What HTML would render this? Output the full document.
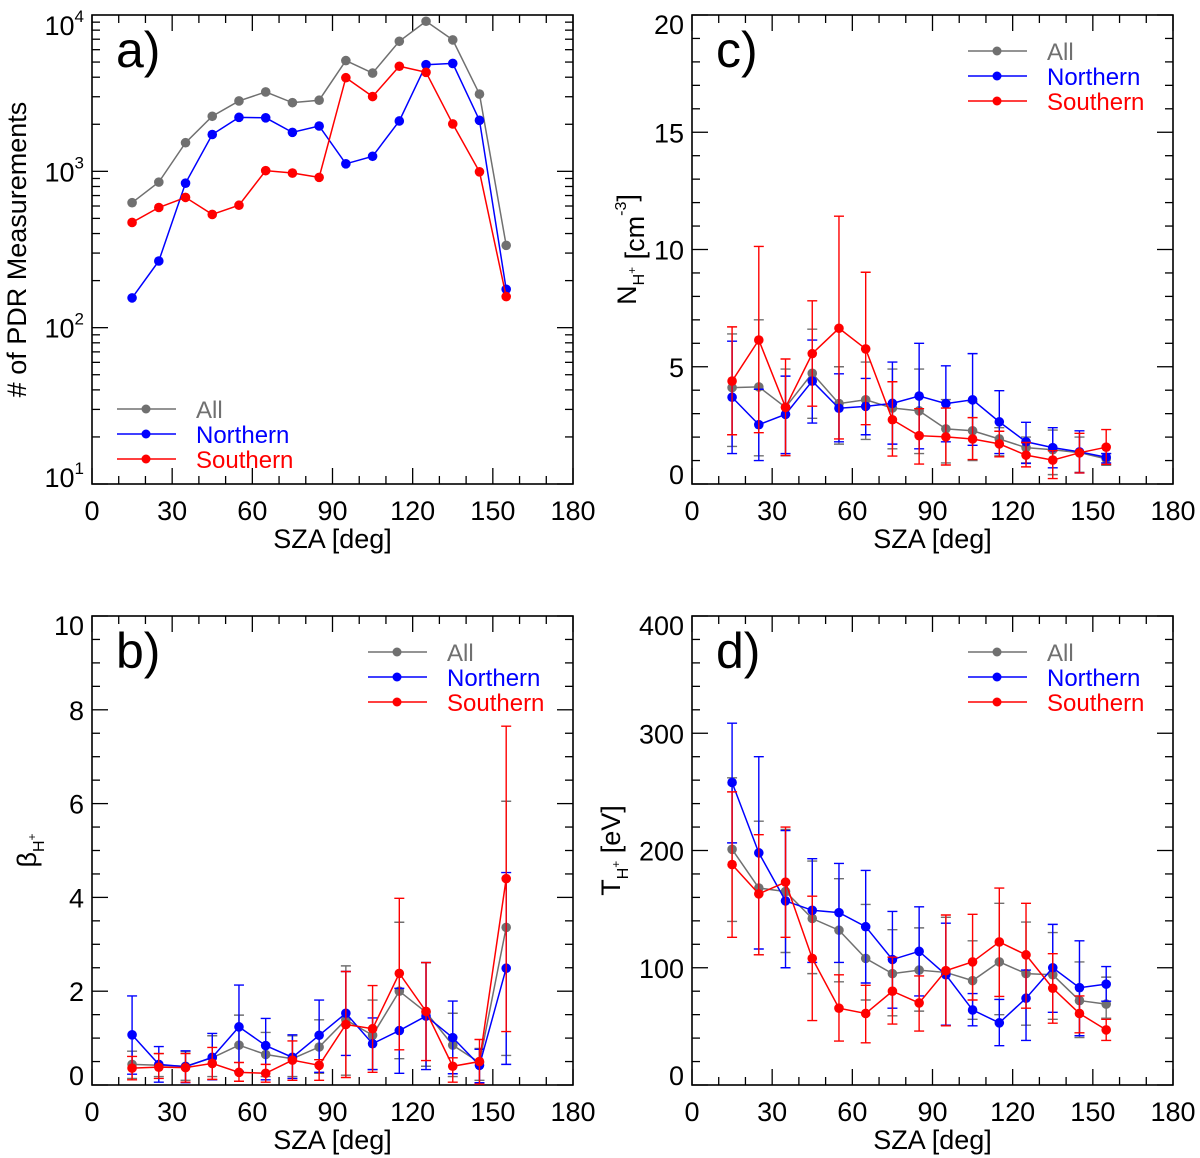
<!DOCTYPE html>
<html><head><meta charset="utf-8">
<style>
html,body{margin:0;padding:0;background:#fff;}
svg{display:block;font-family:"Liberation Sans",Arial,sans-serif;}
</style></head>
<body>
<svg id="fig" width="1200" height="1158" viewBox="0 0 1200 1158" xmlns="http://www.w3.org/2000/svg"></svg>
<script>
// ---------- data ----------
const sza = [15,25,35,45,55,65,75,85,95,105,115,125,135,145,155];
const xTicks = [0,30,60,90,120,150,180];

// panel a: counts
const countAll = [630,853,1524,2250,2820,3220,2750,2850,5110,4250,6790,9120,6930,3120,336];
const countNorth = [155,267,840,1720,2215,2200,1775,1950,1117,1248,2100,4810,4900,2120,176];
const countSouth = [471,587,681,530,607,1010,975,915,3970,3010,4700,4300,2010,993,158];

// panel c: density
const nAll = [4.11,4.14,3.27,4.72,3.43,3.59,3.24,3.12,2.35,2.27,1.92,1.55,1.46,1.34,1.07];
const nAllLo = [1.6,1.2,1.2,2.8,1.7,1.9,1.5,1.3,0.9,1.0,1.2,0.9,0.4,0.5,0.8];
const nAllHi = [6.4,7.0,4.9,6.6,5.0,5.2,4.9,4.9,3.6,3.5,2.4,2.0,2.3,2.0,1.3];
const nNorth = [3.70,2.53,2.97,4.39,3.23,3.31,3.44,3.75,3.43,3.59,2.65,1.80,1.55,1.37,1.14];
const nNorthLo = [1.3,1.0,1.3,2.6,1.8,2.1,1.7,1.5,1.8,1.65,1.3,0.88,0.69,0.47,0.9];
const nNorthHi = [6.09,4.04,4.6,6.14,4.7,4.5,5.2,6.0,5.04,5.56,3.98,2.63,2.4,2.27,1.3];
const nSouth = [4.39,6.14,3.27,5.56,6.64,5.76,2.74,2.06,2.01,1.92,1.71,1.23,1.02,1.33,1.57];
const nSouthLo = [2.1,2.19,1.22,3.32,1.92,2.53,1.19,0.85,0.81,1.04,1.16,0.73,0.23,0.47,0.84];
const nSouthHi = [6.7,10.13,5.33,7.81,11.42,9.03,4.36,3.21,3.24,2.83,2.25,1.77,1.42,2.16,2.32];

// panel b: beta
const bAll = [0.44,0.42,0.40,0.58,0.85,0.65,0.56,0.81,1.39,1.06,2.00,1.55,0.85,0.48,3.36];
const bAllLo = [0.14,0.18,0.1,0.18,0.29,0.18,0.18,0.25,0.21,0.33,0.56,0.40,0.18,0.1,0.63];
const bAllHi = [0.72,0.67,0.71,1.05,1.49,1.12,1.05,1.39,2.54,1.81,3.47,2.61,1.53,0.78,6.05];
const bNorth = [1.07,0.44,0.39,0.59,1.24,0.84,0.59,1.06,1.53,0.88,1.16,1.47,1.01,0.42,2.49];
const bNorthLo = [0.23,0.06,0.05,0.11,0.29,0.11,0.14,0.27,0.63,0.33,0.25,0.33,0.24,0.05,0.44];
const bNorthHi = [1.90,0.82,0.73,1.10,2.13,1.42,1.07,1.81,2.42,1.43,2.06,2.61,1.79,0.76,4.53];
const bSouth = [0.36,0.38,0.37,0.46,0.27,0.25,0.53,0.42,1.29,1.20,2.38,1.57,0.40,0.50,4.40];
const bSouthLo = [0.11,0.14,0.06,0.12,0.08,0.06,0.1,0.1,0.16,0.27,0.75,0.52,0.06,0.02,1.14];
const bSouthHi = [0.61,0.67,0.67,0.80,0.48,0.44,0.94,0.54,2.42,2.12,3.98,2.61,0.58,0.97,7.65];

// panel d: temperature
const tAll = [201,168,165,142,132,108,95,98,96,89,105,95,94,72,69];
const tAllLo = [139.5,111,113,95,88,72.5,59,63,51,56,60,51,56,40.5,57];
const tAllHi = [262,225,218,191,176,154,132.5,134,143,123,155,139,130,105,92];
const tNorth = [258,198,157,149,147,135,107,114,94,64,53,74,100,83,86];
const tNorthLo = [206.5,116,100,104.5,104.5,87,65.5,76,51,50.5,33.5,38,62,42,71.5];
const tNorthHi = [308.6,280,217,193,189,183,148,152,138,78,73,98,137,123,101];
const tSouth = [188,163,173,108,65.5,61,80,70,97.5,105,122,111,82.5,61,47];
const tSouthLo = [126,111,126,55,37.5,36,52,46,50.5,72.5,75.5,65.5,52.7,44.5,38];
const tSouthHi = [250,213.5,220,161,94,85,109,93,145,145.6,168,155,112,76,56];

const legendNames = ["All","Northern","Southern"];
const GRAY="#707070", BLUE="#0000ff", RED="#ff0000";

// ---------- drawing ----------
const NS="http://www.w3.org/2000/svg";
const svg=document.getElementById('fig');
const PW=481, PH=469;
function mk(tag, attrs, parent){
  const e=document.createElementNS(NS,tag);
  for(const k in attrs) e.setAttribute(k,attrs[k]);
  (parent||svg).appendChild(e);
  return e;
}

function panel(opt){
  const g=mk('g',{});
  
  
  const L=opt.x0, R=opt.x0+PW, T=opt.y0, B=opt.y0+PH;
  const xs=v=>L+(v/180)*(R-L);
  const ys=opt.log
    ? v=>B-(Math.log10(v)-1)/3*(B-T)
    : v=>B-(v-opt.ymin)/(opt.ymax-opt.ymin)*(B-T);

  // x ticks
  for(let v=0; v<=180; v+=10){
    const major=v%30===0, len=major?16:8, x=xs(v);
    const t1=mk('line',{x1:x,y1:B,x2:x,y2:B-len,stroke:'#000','stroke-width':1.3},g);
    
    
    mk('line',{x1:x,y1:T,x2:x,y2:T+len,stroke:'#000','stroke-width':1.3},g);
  }
  xTicks.forEach(v=>{
    const t=mk('text',{x:xs(v),y:B+36,'text-anchor':'middle','font-size':27},g);
    t.textContent=v;
    
    
  });
  const xt=mk('text',{x:(L+R)/2,y:B+64,'text-anchor':'middle','font-size':27},g);
  xt.textContent='SZA [deg]';
  
  

  // y ticks
  if(opt.log){
    for(let d=1; d<=3; d++){
      for(let m=1; m<=9; m++){
        const v=m*Math.pow(10,d), y=ys(v), len=m===1?16:8;
        mk('line',{x1:L,y1:y,x2:L+len,y2:y,stroke:'#000','stroke-width':1.3},g);
        mk('line',{x1:R,y1:y,x2:R-len,y2:y,stroke:'#000','stroke-width':1.3},g);
      }
    }
    [1,2,3,4].forEach(p=>{
      const y=ys(Math.pow(10,p));
      const off = p===4?10:(p===1?-7:0);
      const t=mk('text',{x:L-8,y:y+off+10,'text-anchor':'end','font-size':27},g);
      
      
      t.textContent='10';
      const s=mk('tspan',{dy:-13,'font-size':17},t); s.textContent=p;
    });
  } else {
    for(let v=opt.ymin; v<=opt.ymax+1e-9; v+=opt.minor){
      const major=Math.abs(v/opt.major-Math.round(v/opt.major))<1e-6, len=major?16:8, y=ys(v);
      mk('line',{x1:L,y1:y,x2:L+len,y2:y,stroke:'#000','stroke-width':1.3},g);
      mk('line',{x1:R,y1:y,x2:R-len,y2:y,stroke:'#000','stroke-width':1.3},g);
    }
    opt.yTicks.forEach((v,i)=>{
      const off = i===0?0:(i===opt.yTicks.length-1?19:10);
      const t=mk('text',{x:L-8,y:ys(v)+off,'text-anchor':'end','font-size':27},g);
      t.textContent=v;
      
      
    });
  }
  // frame
  const fr=mk('rect',{x:L,y:T,width:R-L,height:B-T,fill:'none',stroke:'#000','stroke-width':1.6},g);
  
  

  // y title
  const yt=mk('text',{transform:`translate(${L-opt.ytOff},${(T+B)/2}) rotate(-90)`,'text-anchor':'middle','font-size':27},g);
  
  
  opt.ytitle(yt);

  // panel letter
  const pl=mk('text',{x:L+24,y:T+52,'font-size':50},g);
  pl.textContent=opt.letter;
  
  

  // series
  opt.series.forEach(s=>{
    const sg=mk('g',{},g);
    
    
    if(s.lo){
      sza.forEach((x,i)=>{
        const X=xs(x), y1=ys(s.lo[i]), y2=ys(s.hi[i]);
        const eb=mk('path',{d:`M${X},${y1}V${y2}M${X-5},${y1}H${X+5}M${X-5},${y2}H${X+5}`,stroke:s.color,'stroke-width':1.4,fill:'none'},sg);
        
        
      });
    }
    const pts=sza.map((x,i)=>xs(x)+','+ys(s.v[i])).join(' ');
    const pl2=mk('polyline',{points:pts,fill:'none',stroke:s.color,'stroke-width':1.5},sg);
    
    
    sza.forEach((x,i)=>{
      const c=mk('circle',{cx:xs(x),cy:ys(s.v[i]),r:4.8,fill:s.color},sg);
      
      
    });
  });

  // legend
  const lg=mk('g',{},g);
  
  
  const colors=[GRAY,BLUE,RED];
  legendNames.forEach((n,i)=>{
    const y=opt.legY+i*25;
    const e=mk('g',{},lg);
    
    
    mk('line',{x1:opt.legX,y1:y,x2:opt.legX+59,y2:y,stroke:colors[i],'stroke-width':1.5},e);
    mk('circle',{cx:opt.legX+29,cy:y,r:4.5,fill:colors[i]},e);
    const t=mk('text',{x:opt.legX+79,y:y+9,'font-size':24,fill:colors[i]},e);
    t.textContent=n;
  });
}

panel({name:'panel-a-counts',x0:92,y0:15,log:true,letter:'a)',ytOff:66,
  ytitle:t=>{t.textContent='# of PDR Measurements';},
  legX:117,legY:409,
  series:[{name:'series-all',color:GRAY,v:countAll},{name:'series-northern',color:BLUE,v:countNorth},{name:'series-southern',color:RED,v:countSouth}]});

panel({name:'panel-c-density',x0:692,y0:15,ymin:0,ymax:20,minor:1,major:5,yTicks:[0,5,10,15,20],letter:'c)',ytOff:56,
  ytitle:t=>{t.textContent='N';const a=mk('tspan',{dy:8,'font-size':16},t);a.textContent='H';const b=mk('tspan',{dy:-8,'font-size':12},t);b.textContent='+';const c=mk('tspan',{dy:8},t);c.textContent=' [cm';const d=mk('tspan',{dy:-18,'font-size':16},t);d.textContent='-3';const e=mk('tspan',{dy:10},t);e.textContent=']';},
  legX:968,legY:51,
  series:[{name:'series-all',color:GRAY,v:nAll,lo:nAllLo,hi:nAllHi},{name:'series-northern',color:BLUE,v:nNorth,lo:nNorthLo,hi:nNorthHi},{name:'series-southern',color:RED,v:nSouth,lo:nSouthLo,hi:nSouthHi}]});

panel({name:'panel-b-beta',x0:92,y0:616,ymin:0,ymax:10,minor:0.5,major:2,yTicks:[0,2,4,6,8,10],letter:'b)',ytOff:56,
  ytitle:t=>{t.textContent='β';const a=mk('tspan',{dy:8,'font-size':16},t);a.textContent='H';const b=mk('tspan',{dy:-8,'font-size':12},t);b.textContent='+';},
  legX:368,legY:652,
  series:[{name:'series-all',color:GRAY,v:bAll,lo:bAllLo,hi:bAllHi},{name:'series-northern',color:BLUE,v:bNorth,lo:bNorthLo,hi:bNorthHi},{name:'series-southern',color:RED,v:bSouth,lo:bSouthLo,hi:bSouthHi}]});

panel({name:'panel-d-temperature',x0:692,y0:616,ymin:0,ymax:400,minor:20,major:100,yTicks:[0,100,200,300,400],letter:'d)',ytOff:72,
  ytitle:t=>{t.textContent='T';const a=mk('tspan',{dy:8,'font-size':16},t);a.textContent='H';const b=mk('tspan',{dy:-8,'font-size':12},t);b.textContent='+';const c=mk('tspan',{},t);c.textContent=' [eV]';},
  legX:968,legY:652,
  series:[{name:'series-all',color:GRAY,v:tAll,lo:tAllLo,hi:tAllHi},{name:'series-northern',color:BLUE,v:tNorth,lo:tNorthLo,hi:tNorthHi},{name:'series-southern',color:RED,v:tSouth,lo:tSouthLo,hi:tSouthHi}]});
</script>
</body></html>
